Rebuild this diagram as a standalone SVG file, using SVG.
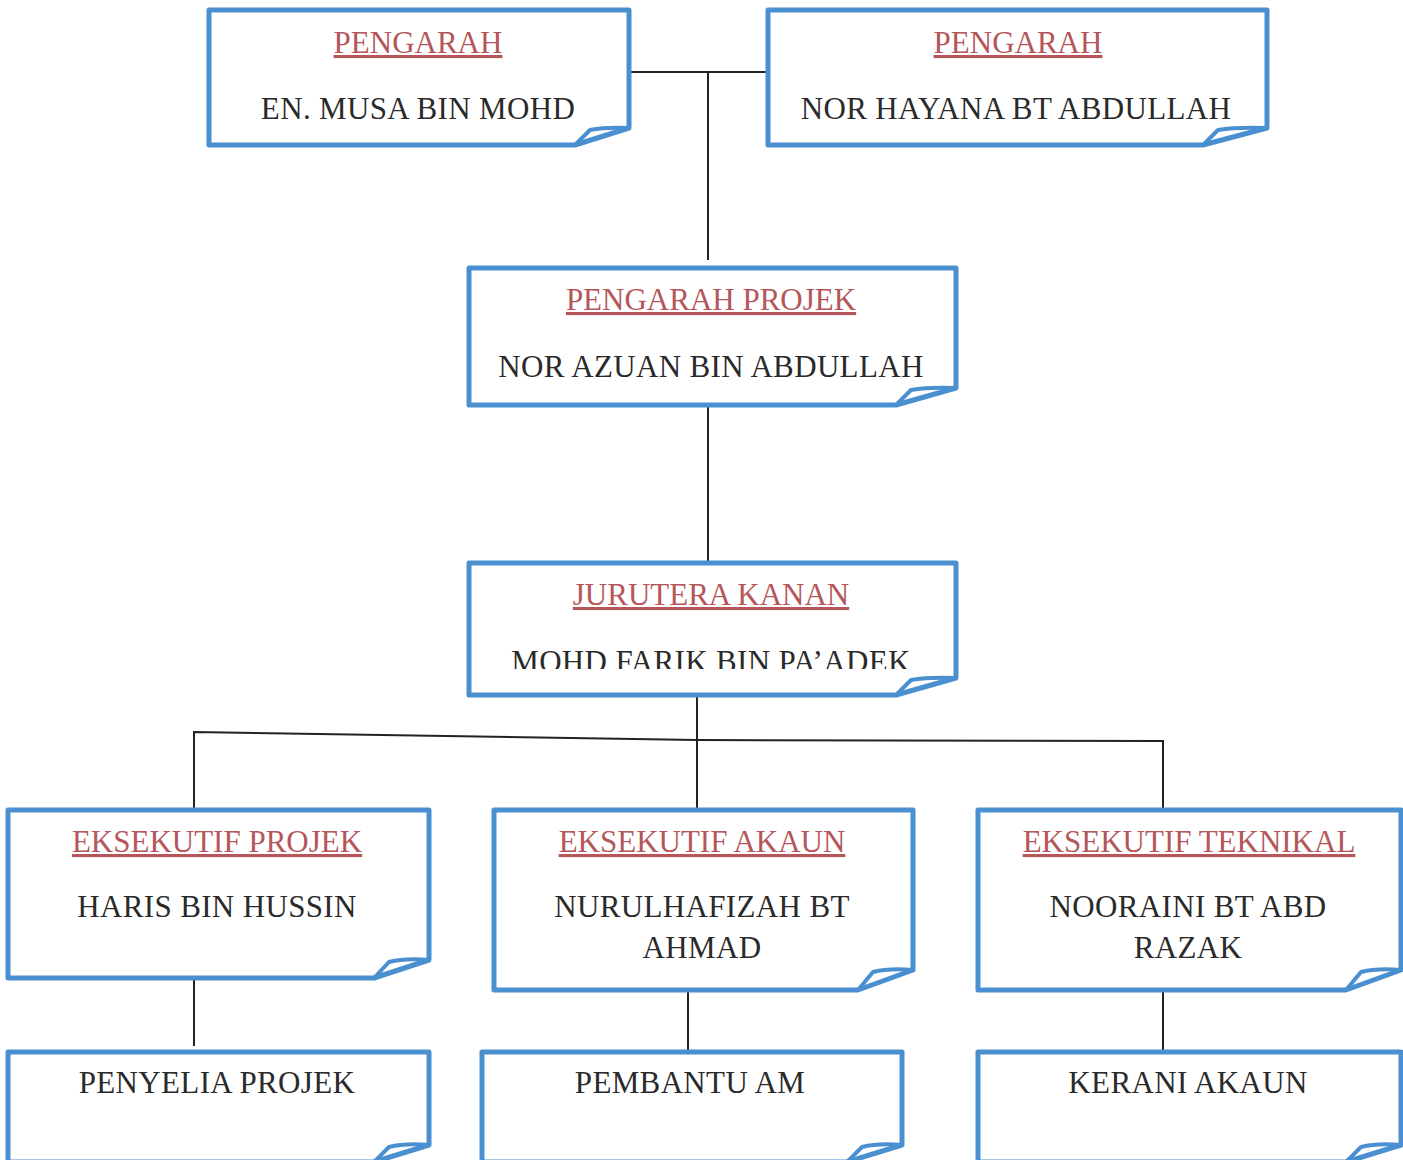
<svg xmlns="http://www.w3.org/2000/svg" width="1403" height="1160" viewBox="0 0 1403 1160">
<style>
.box{fill:#fff;stroke:#4a8fd0;stroke-width:5;stroke-linejoin:round}
.fold{fill:none;stroke:#4a8fd0;stroke-width:4;stroke-linejoin:round}
.t{font-family:"Liberation Serif","Times New Roman",serif;font-size:31px;fill:#b5565a;text-anchor:middle;text-decoration:underline}
.n{font-family:"Liberation Serif","Times New Roman",serif;font-size:31px;fill:#2a2a2a;text-anchor:middle;letter-spacing:0.35px}
.c{fill:none;stroke:#222;stroke-width:2}
</style>
<defs>
<clipPath id="clip4"><rect x="471" y="565" width="483" height="104"/></clipPath>
</defs>
<rect width="1403" height="1160" fill="#fff"/>
<g id="connectors">
<path class="c" d="M629 72 H768 M708 72 V260"/>
<path class="c" d="M708 395 V572"/>
<path class="c" d="M697 695 V810"/>
<path class="c" d="M194 810 V732 L697 740 L1163 741 V810"/>
<path class="c" d="M194 972 V1046"/>
<path class="c" d="M688 980 V1052"/>
<path class="c" d="M1163 990 V1052"/>
</g>
<g id="n1">
<path class="box" d="M209 10 H629 V128 L575 145 H209 Z"/>
<path class="fold" d="M575 145 L590 130 Q605 127 629 128"/>
<text class="t" x="418" y="53">PENGARAH</text>
<text class="n" x="418" y="119">EN. MUSA BIN MOHD</text>
</g>
<g id="n2">
<path class="box" d="M768 10 H1267 V128 L1203 145 H768 Z"/>
<path class="fold" d="M1203 145 L1218 130 Q1235 127 1267 128"/>
<text class="t" x="1018" y="53">PENGARAH</text>
<text class="n" x="1016" y="119">NOR HAYANA BT ABDULLAH</text>
</g>
<g id="n3">
<path class="box" d="M469 268 H956 V388 L896 405 H469 Z"/>
<path class="fold" d="M896 405 L911 390 Q928 387 956 388"/>
<text class="t" x="711" y="310">PENGARAH PROJEK</text>
<text class="n" x="711" y="377">NOR AZUAN BIN ABDULLAH</text>
</g>
<g id="n4">
<path class="box" d="M469 563 H956 V678 L896 695 H469 Z"/>
<path class="fold" d="M896 695 L911 680 Q928 677 956 678"/>
<text class="t" x="711" y="605">JURUTERA KANAN</text>
<text class="n" x="711" y="672" clip-path="url(#clip4)">MOHD FARIK BIN PA’ADEK</text>
</g>
<g id="n5">
<path class="box" d="M8 810 H429 V960 L374 978 H8 Z"/>
<path class="fold" d="M374 978 L389 962 Q405 958 429 960"/>
<text class="t" x="217" y="852">EKSEKUTIF PROJEK</text>
<text class="n" x="217" y="917">HARIS BIN HUSSIN</text>
</g>
<g id="n6">
<path class="box" d="M494 810 H913 V970 L858 990 H494 Z"/>
<path class="fold" d="M858 990 L873 972 Q889 968 913 970"/>
<text class="t" x="702" y="852">EKSEKUTIF AKAUN</text>
<text class="n" x="702" y="917">NURULHAFIZAH BT</text>
<text class="n" x="702" y="958">AHMAD</text>
</g>
<g id="n7">
<path class="box" d="M978 810 H1401 V970 L1346 990 H978 Z"/>
<path class="fold" d="M1346 990 L1361 972 Q1377 968 1401 970"/>
<text class="t" x="1189" y="852">EKSEKUTIF TEKNIKAL</text>
<text class="n" x="1188" y="917">NOORAINI BT ABD</text>
<text class="n" x="1188" y="958">RAZAK</text>
</g>
<g id="n8">
<path class="box" d="M8 1052 H429 V1145 L374 1162 H8 Z"/>
<path class="fold" d="M374 1162 L389 1147 Q405 1143 429 1145"/>
<text class="n" x="217" y="1093">PENYELIA PROJEK</text>
</g>
<g id="n9">
<path class="box" d="M482 1052 H902 V1145 L847 1162 H482 Z"/>
<path class="fold" d="M847 1162 L862 1147 Q878 1143 902 1145"/>
<text class="n" x="690" y="1093">PEMBANTU AM</text>
</g>
<g id="n10">
<path class="box" d="M978 1052 H1401 V1145 L1346 1162 H978 Z"/>
<path class="fold" d="M1346 1162 L1361 1147 Q1377 1143 1401 1145"/>
<text class="n" x="1188" y="1093">KERANI AKAUN</text>
</g>
</svg>
